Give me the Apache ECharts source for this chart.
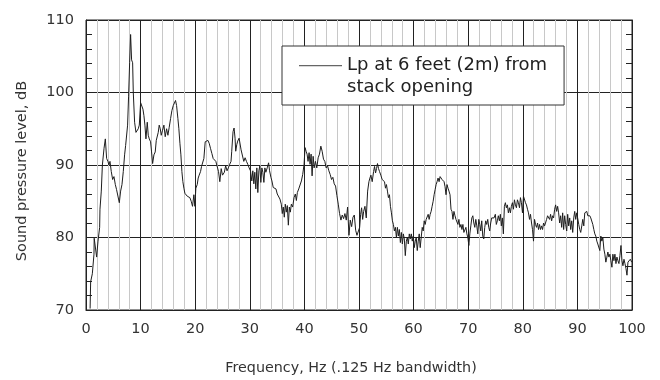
<!DOCTYPE html>
<html>
<head>
<meta charset="utf-8">
<script src="https://cdn.jsdelivr.net/npm/echarts@6/dist/echarts.min.js"></script>
<style>html,body{margin:0;padding:0;background:#fff}#c{width:660px;height:380px}</style>
</head>
<body>
<div id="c"></div>
<script>
// Spectrum: [frequency Hz, sound pressure level dB]
const band0to25 = [[0.75,70.2],[0.85,73.9],[1.16,75],[1.46,77.7],[1.5,79.9],[1.77,79.9],[1.95,77.3],[2.2,79.5],[2.5,81.4],[2.56,83.9],[2.8,86.4],[3.0,90],[3.3,92.3],[3.54,93.6],[3.78,90.9],[4.02,90.5],[4.2,90],[4.39,90.5],[4.63,89.1],[4.88,88],[5.12,88.4],[5.37,87.3],[5.6,86.6],[5.85,86.8],[6.1,84.8],[6.34,86.4],[6.59,87.3],[6.83,89.1],[7.07,91.4],[7.26,92.7],[7.44,92.5],[7.62,95.5],[7.8,99.5],[7.99,104.1],[8.17,108],[8.35,104.5],[8.54,104.1],[8.66,100],[8.9,95.9],[9.15,94.5],[9.39,94.3],[9.57,95],[9.76,95.5],[10.0,98.6],[10.24,98.4],[10.43,97.7],[10.61,96.8],[10.79,95.5],[10.98,93.6],[11.22,95.9],[11.4,94.1],[11.59,93.6],[11.83,93.2],[12.01,91.8],[12.2,90.2],[12.44,91.4],[12.68,91.8],[12.87,93.4],[13.05,93.2],[13.23,94.5],[13.41,95.5],[13.6,95],[13.78,94.1],[14.02,94.8],[14.27,95.5],[14.51,93.9],[14.76,95],[15.0,94.1],[15.24,95.2],[15.49,96.4],[15.73,97.5],[15.98,98.2],[16.22,98.4],[16.4,98.9],[16.59,98.2],[16.83,96.4],[17.01,95],[17.2,93],[17.38,91.4],[17.56,89.1],[17.74,87.7],[17.93,86.8],[18.11,86.1],[18.29,85.9],[18.54,85.7],[18.78,85.9],[19.02,85.5],[19.27,85],[19.51,84.3],[19.76,85.9],[19.94,84.3],[20.12,86.8],[20.37,87.3],[20.55,88.2],[20.73,88.6],[20.98,89.1],[21.16,89.8],[21.34,90],[21.59,90.9],[21.83,93.2],[22.07,93.4],[22.32,93.4],[22.56,93],[22.8,92.3],[23.05,91.6],[23.29,90.9],[23.54,91.1],[23.78,90.5],[24.02,90.7],[24.27,89.1],[24.51,87.7],[24.76,89.5],[25.0,88.6]];
const band25to50 = [[25.34,89.0],[25.58,89.9],[25.83,89.2],[26.07,89.6],[26.32,90.1],[26.56,90.5],[26.69,91.9],[26.93,94.6],[27.12,95.1],[27.3,93.7],[27.42,91.9],[27.61,92.8],[27.79,93.3],[28.04,93.7],[28.22,93.5],[28.4,92.1],[28.65,91.9],[28.9,90.5],[29.14,91],[29.39,90.5],[29.63,90.1],[29.88,89.6],[30.12,89.2],[30.37,87.8],[30.55,89.2],[30.74,87.4],[30.92,89],[31.1,86.7],[31.29,89.6],[31.47,86.2],[31.66,89.2],[31.84,89.9],[32.02,87.6],[32.21,89.6],[32.39,89],[32.58,87.6],[32.76,89.6],[32.94,89],[33.19,89.6],[33.44,90.3],[33.62,89.2],[33.87,88.3],[34.05,87.8],[34.29,86.9],[34.54,86.7],[34.79,86.7],[35.03,86],[35.28,86],[35.52,85.3],[35.77,84.6],[35.95,83.3],[36.13,84.2],[36.32,82.8],[36.5,84.6],[36.69,83.5],[36.87,84.4],[37.06,81.7],[37.24,84.2],[37.42,83.5],[37.61,84.6],[37.85,84.2],[38.1,85.5],[38.34,86],[38.53,85.1],[38.71,86.2],[38.96,86.7],[39.2,86.9],[39.45,87.8],[39.69,88.7],[39.94,90.1],[40.12,92.4],[40.31,91.9],[40.49,91.5],[40.67,90.5],[40.86,91.7],[41.04,90.1],[41.23,91.5],[41.41,88.5],[41.6,91.2],[41.78,89.6],[42.02,90.5],[42.27,89.6],[42.52,91],[42.76,91.5],[43.01,92.6],[43.25,91.9],[43.5,90.8],[43.74,90.5],[43.99,89.6],[44.23,89.9],[44.48,89.2],[44.72,88.7],[44.97,88],[45.21,88.3],[45.46,87.4],[45.71,87.1],[45.95,85.8],[46.2,84.6],[46.44,83.3],[46.69,82.4],[46.93,83.1],[47.18,82.6],[47.42,83.3],[47.67,82.4],[47.91,84.2],[48.16,80.3],[48.4,82.4],[48.65,81.5],[48.9,82.8],[49.14,83.1],[49.39,81],[49.63,80.3],[49.88,80.5]];
const band50to75 = [[50.12,81.4],[50.3,83.2],[50.48,84.1],[50.67,82.5],[50.85,83.6],[51.09,84.3],[51.33,82.7],[51.58,86.4],[51.82,87.7],[52.0,88.2],[52.18,88.6],[52.42,87.7],[52.67,89.1],[52.85,89.8],[53.03,88.9],[53.21,89.5],[53.39,90.2],[53.58,89.5],[53.76,89.1],[54.0,88.6],[54.24,88],[54.48,88.2],[54.67,87.7],[54.85,86.8],[55.03,87.3],[55.21,86.4],[55.39,85.5],[55.58,85.9],[55.76,84.3],[55.94,83.4],[56.12,82.3],[56.3,81.8],[56.48,80.9],[56.67,81.4],[56.85,80],[57.03,81.4],[57.21,80.2],[57.39,81.1],[57.58,79.3],[57.76,80.7],[57.94,79.1],[58.12,80.5],[58.3,79.8],[58.48,77.5],[58.67,79.5],[58.85,80],[59.03,79.1],[59.21,80.5],[59.39,79.8],[59.58,80.5],[59.76,79.5],[59.94,80.2],[60.12,78.6],[60.3,79.5],[60.48,80],[60.67,78.2],[60.85,79.5],[61.03,80.5],[61.21,78.6],[61.39,80],[61.58,81.4],[61.76,80.9],[61.94,82.3],[62.12,81.8],[62.3,82.5],[62.48,82.7],[62.67,83.2],[62.85,82.5],[63.03,83.2],[63.21,83.6],[63.39,84.3],[63.58,85],[63.76,85.9],[63.94,86.6],[64.12,87.3],[64.3,87.7],[64.48,88.2],[64.67,87.7],[64.85,88.4],[65.03,88.6],[65.21,88],[65.39,88.2],[65.58,87.7],[65.76,87],[65.94,85.9],[66.12,87.3],[66.3,86.8],[66.48,86.4],[66.67,85.9],[66.85,83.9],[67.03,83.6],[67.21,82.5],[67.39,83.6],[67.58,83],[67.76,82.5],[67.94,82.3],[68.12,81.8],[68.3,82.5],[68.48,81.4],[68.67,81.8],[68.85,81.1],[69.03,81.8],[69.21,80.7],[69.39,80.9],[69.58,81.4],[69.76,80.5],[69.94,80],[70.12,78.9],[70.3,80.5],[70.48,81.6],[70.67,82.7],[70.85,83],[71.03,82],[71.21,81.4],[71.39,82.5],[71.58,81.6],[71.76,80.5],[71.94,82.5],[72.12,81.8],[72.3,80.9],[72.48,82.3],[72.67,80.2],[72.85,79.8],[73.03,81.4],[73.21,82.3],[73.39,81.8],[73.58,82.5],[73.76,81.4],[73.94,80.9],[74.12,82],[74.3,82.7],[74.48,82.5],[74.73,82.7]];
const band75to100 = [[74.97,83.2],[75.15,81.8],[75.34,82.3],[75.52,83],[75.71,82.3],[75.89,83.2],[76.07,81.6],[76.26,82.7],[76.44,80.5],[76.63,84.3],[76.81,84.8],[76.99,84.1],[77.18,84.5],[77.36,83.4],[77.55,84.1],[77.73,83.4],[77.91,84.3],[78.1,84.8],[78.28,83.9],[78.47,85.2],[78.65,84.5],[78.83,84.1],[79.02,85.2],[79.2,84.8],[79.39,84.1],[79.57,85.5],[79.75,84.8],[79.94,83.4],[80.12,85.7],[80.31,85.5],[80.49,84.8],[80.67,84.5],[80.86,83.9],[81.04,83.4],[81.23,82.5],[81.41,83.2],[81.6,82],[81.78,81.1],[81.96,79.5],[82.15,82.5],[82.33,81.8],[82.52,81.4],[82.7,82],[82.88,81.1],[83.07,81.8],[83.25,81.1],[83.44,81.6],[83.62,81.1],[83.8,82],[83.99,81.6],[84.17,81.4],[84.36,82.5],[84.54,83],[84.72,83.2],[84.91,82.5],[85.09,83.2],[85.28,82.3],[85.46,83],[85.64,82.7],[85.83,83.9],[86.01,84.5],[86.2,83.6],[86.38,84.3],[86.56,83.4],[86.75,82],[86.93,83],[87.12,81.4],[87.3,83.4],[87.48,81.1],[87.67,83],[87.85,81.8],[88.04,80.9],[88.22,83.2],[88.4,81.6],[88.59,82.7],[88.77,81.1],[88.96,82.3],[89.14,80.7],[89.33,82.7],[89.51,83.6],[89.69,82.5],[89.88,83.4],[90.06,83.2],[90.25,81.8],[90.43,81.1],[90.61,80.7],[90.8,81.6],[90.98,82.5],[91.17,81.6],[91.35,83.4],[91.53,83.2],[91.72,83.6],[91.9,83],[92.09,83.2],[92.27,83],[92.45,82.7],[92.64,82.5],[92.82,81.8],[93.01,81.1],[93.19,80.5],[93.37,80.2],[93.56,79.5],[93.74,79.1],[93.93,79.3],[94.11,78.2],[94.29,80.2],[94.48,79.5],[94.66,80],[94.85,78.4],[95.03,77.7],[95.21,76.6],[95.4,77.3],[95.58,78],[95.77,77.3],[95.95,77.7],[96.13,76.8],[96.32,75.9],[96.5,77.7],[96.69,76.8],[96.87,77.7],[97.06,76.4],[97.24,77.3],[97.42,76.8],[97.61,76.4],[97.79,77.5],[97.98,78.9],[98.16,76.8],[98.34,76.1],[98.53,77],[98.71,76.4],[98.9,75.7],[99.08,74.8],[99.26,76.6],[99.45,76.4],[99.69,77],[99.94,76.6]];

const seriesName = 'Lp at 6 feet (2m) from\nstack opening';
const xTitle = 'Frequency, Hz (.125 Hz bandwidth)';
const yTitle = 'Sound pressure level, dB';

const spectrum = band0to25.concat(band25to50, band50to75, band75to100);

const FONT = 'DejaVu Sans';
const chart = echarts.init(document.getElementById('c'), null, {renderer: 'canvas'});
const yCommon = {
  type: 'value', min: 70, max: 110, interval: 10,
  axisLine: {show: true, lineStyle: {color: '#222', width: 1}},
  axisTick: {show: true, inside: true, length: 6, lineStyle: {color: '#222'}},
  minorTick: {show: true, splitNumber: 5, length: 6, lineStyle: {color: '#222'}}
};
chart.setOption({
  animation: false,
  backgroundColor: '#fff',
  textStyle: {fontFamily: FONT},
  grid: {left: 86, right: 28, top: 20, bottom: 67, show: true, borderColor: '#222', borderWidth: 1, backgroundColor: 'transparent'},
  legend: {
    left: 282, top: 46,
    padding: [8, 17, 7, 17],
    backgroundColor: '#fff', borderColor: '#333', borderWidth: 1,
    itemWidth: 43, itemHeight: 44, itemGap: 5,
    icon: 'path://M0,0L0,0M0,11L43,11L43,12.2L0,12.2ZM43,44L43,44',
    itemStyle: {color: '#666', borderWidth: 0},
    textStyle: {fontFamily: FONT, fontSize: 18, lineHeight: 22, color: '#222'},
    selectedMode: false
  },
  xAxis: {
    type: 'value', min: 0, max: 100, interval: 10,
    axisLine: {show: true, onZero: false, lineStyle: {color: '#222'}},
    axisTick: {show: false},
    axisLabel: {margin: 12, fontSize: 14.5, color: '#333', fontFamily: FONT},
    splitLine: {show: true, lineStyle: {color: '#222', width: 1}},
    minorTick: {show: false, splitNumber: 5},
    minorSplitLine: {show: true, lineStyle: {color: '#c8c8c8', width: 1}},
    name: xTitle, nameLocation: 'middle', nameGap: 51,
    nameTextStyle: {fontSize: 14.3, color: '#333', fontFamily: FONT, padding: [0, 16, 0, 0]}
  },
  yAxis: [
    Object.assign({}, yCommon, {
      position: 'left',
      axisLabel: {margin: 12, fontSize: 14.5, color: '#333', fontFamily: FONT},
      splitLine: {show: true, lineStyle: {color: '#222', width: 1}},
      name: yTitle, nameLocation: 'middle', nameGap: 56,
      nameTextStyle: {fontSize: 14.5, color: '#333', fontFamily: FONT, padding: [0, 12, 0, 0]}
    }),
    Object.assign({}, yCommon, {
      position: 'right',
      axisLabel: {show: false},
      splitLine: {show: false}
    })
  ],
  series: [{
    name: seriesName,
    type: 'line',
    yAxisIndex: 0,
    data: spectrum,
    symbol: 'none',
    lineStyle: {color: '#1e1e1e', width: 1},
    itemStyle: {color: '#1e1e1e'},
    z: 3
  }]
});
</script>
</body>
</html>
